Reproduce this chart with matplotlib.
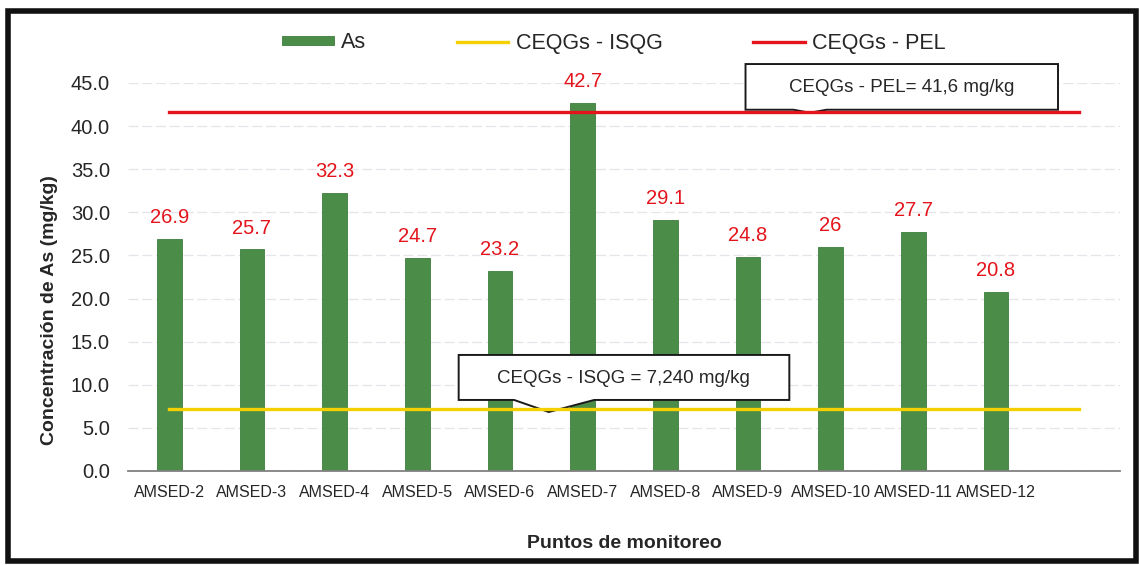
import matplotlib

matplotlib.use("Agg")

import matplotlib.pyplot as plt
import numpy as np
from matplotlib.patches import Polygon, Rectangle

plt.rcParams["font.family"] = ["Liberation Sans", "DejaVu Sans"]

# data
sites = ["AMSED-2", "AMSED-3", "AMSED-4", "AMSED-5", "AMSED-6", "AMSED-7",
         "AMSED-8", "AMSED-9", "AMSED-10", "AMSED-11", "AMSED-12"]
as_values = [26.9, 25.7, 32.3, 24.7, 23.2, 42.7, 29.1, 24.8, 26.0, 27.7, 20.8]
value_labels = ["26.9", "25.7", "32.3", "24.7", "23.2", "42.7",
                "29.1", "24.8", "26", "27.7", "20.8"]
isqg = 7.24
pel = 41.6

GREEN = "#4a8c48"
YELLOW = "#f4d000"
RED = "#e3141b"
TXT = "#262626"

W, H = 1139, 565
fig = plt.figure(figsize=(W / 100, H / 100), dpi=100)
ax = fig.add_axes([128 / W, 1 - 471 / H, (1120 - 128) / W, (471 - 83) / H])

x = np.arange(len(sites))
# guideline series run over one extra (empty) category slot
x_lines = np.arange(len(sites) + 1)

bars = ax.bar(x, as_values, width=0.30, color=GREEN, edgecolor="#3d7d3c", lw=0.6,
              zorder=2, label="As")
l_isqg, = ax.plot(x_lines, np.full(len(x_lines), isqg), color=YELLOW, lw=2.4,
                  zorder=5, label="CEQGs - ISQG")
l_pel, = ax.plot(x_lines, np.full(len(x_lines), pel), color=RED, lw=2.4,
                 zorder=5, label="CEQGs - PEL")

for xi, v, lab in zip(x, as_values, value_labels):
    ax.annotate(lab, xy=(xi, v), xytext=(0, 8.5), textcoords="offset points",
                ha="center", va="bottom", color=RED, fontsize=14.5,
                annotation_clip=False)

# callout boxes
pel_box = [(6.97, 47.2), (10.75, 47.2), (10.75, 41.9), (7.95, 41.9),
           (7.75, 41.55), (7.55, 41.9), (6.97, 41.9)]
ax.add_patch(Polygon(pel_box, closed=True, facecolor="white", edgecolor="#1a1a1a",
                     lw=1.4, zorder=4, clip_on=False))
ax.text(8.86, 44.5, "CEQGs - PEL= 41,6 mg/kg", ha="center", va="center",
        fontsize=13.5, color=TXT, zorder=6)

isqg_box = [(3.50, 13.46), (7.50, 13.46), (7.50, 8.24), (5.14, 8.24),
            (4.59, 6.84), (4.17, 8.24), (3.50, 8.24)]
ax.add_patch(Polygon(isqg_box, closed=True, facecolor="white", edgecolor="#1a1a1a",
                     lw=1.4, zorder=4))
ax.text(5.49, 10.7, "CEQGs - ISQG = 7,240 mg/kg", ha="center", va="center",
        fontsize=13.5, color=TXT, zorder=6)

ax.set_xlim(-0.5, 11.5)
ax.set_ylim(0, 45)
ax.set_xticks(x)
ax.set_xticklabels(sites, fontsize=11.5, color=TXT)
ax.set_yticks(np.arange(0, 46, 5))
ax.set_yticklabels([f"{v:.1f}" for v in np.arange(0, 46, 5)], fontsize=14.5, color=TXT)
ax.tick_params(axis="x", length=0, pad=10)
ax.tick_params(axis="y", length=0, pad=13)
ax.grid(axis="y", color="#e4e4ea", lw=0.9, ls=(0, (8, 3)), zorder=0)
ax.set_axisbelow(True)
for s in ["top", "right", "left"]:
    ax.spines[s].set_visible(False)
ax.spines["bottom"].set_color("#808080")
ax.spines["bottom"].set_linewidth(1.3)

fig.text(50 / W, 1 - 310 / H, "Concentración de As (mg/kg)", rotation=90,
         ha="center", va="center", fontsize=14, fontweight="bold", color=TXT)
fig.text(624 / W, 1 - 543 / H, "Puntos de monitoreo", ha="center", va="center",
         fontsize=14, fontweight="bold", color=TXT)

fig.legend([bars, l_isqg, l_pel], ["As", "CEQGs - ISQG", "CEQGs - PEL"],
           loc="center", bbox_to_anchor=(614 / W, 1 - 43 / H),
           ncol=3, frameon=False, fontsize=15.5, handlelength=2.4,
           handleheight=0.3, handletextpad=0.35, columnspacing=4.2,
           labelcolor=TXT)

# outer frame
fig.patches.append(Rectangle((8 / W, 1 - 561 / H), (1136 - 8) / W, (561 - 11) / H,
                             transform=fig.transFigure, fill=False,
                             edgecolor="#111111", lw=4))

fig.savefig("out.png", dpi=100)
